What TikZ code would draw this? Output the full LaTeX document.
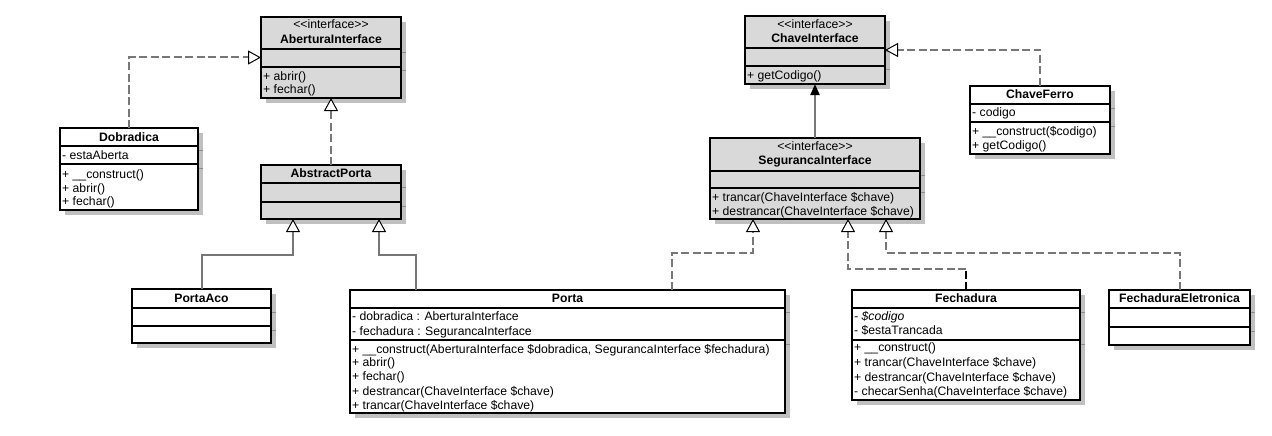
\documentclass[tikz,border=0pt]{standalone}
\usepackage{fontspec}
\newfontfamily\umlf{Liberation Sans}
\usetikzlibrary{arrows.meta,calc}
\pgfdeclarelayer{bg}
\pgfsetlayers{bg,main}
\definecolor{ifill}{HTML}{D9D9D9}
\definecolor{shadc}{HTML}{C0C0C0}
\definecolor{connc}{HTML}{777777}
\tikzset{
  box/.style={draw=black, line width=2pt, rectangle, inner sep=0pt, outer sep=0pt, anchor=north west},
  sepline/.style={draw=black, line width=1.6pt},
  ghost/.style={draw=black!45, line width=1pt},
  t/.style={font=\umlf\fontsize{12.2}{14}\selectfont, inner sep=0pt, anchor=base west},
  tc/.style={font=\umlf\fontsize{12.2}{14}\selectfont, inner sep=0pt, anchor=base},
  tb/.style={font=\umlf\bfseries\fontsize{12.2}{14}\selectfont, inner sep=0pt, anchor=base},
  opentip/.tip={Triangle[width=14pt,length=13pt,color=black,fill=white,line width=1pt]},
  real/.style={draw=connc, line width=2pt, dash pattern=on 8pt off 3.5pt, -opentip},
  gen/.style={draw=connc, line width=2pt, -opentip},
  assoc/.style={draw=connc, line width=2pt, -{Triangle[width=9pt,length=11pt,color=black]}},
  darkdash/.style={draw=black, line width=1.6pt, dash pattern=on 8pt off 3.5pt},
}
\newcommand\umlclass[6]{%
  \begin{pgfonlayer}{bg}\fill[shadc] (#2+5,#3+5) rectangle (#4+5,#5+5);\end{pgfonlayer}
  \node[box, fill=#6, minimum width=#4-#2, minimum height=#5-#3] (#1) at (#2,#3) {};
}
\newcommand\sepl[3]{%
  \draw[sepline] (#1,#3) -- (#2,#3);
  \begin{pgfonlayer}{bg}\draw[ghost] (#2+1,#3+4) -- (#2+5,#3+4);\end{pgfonlayer}
}
\begin{document}
\begin{tikzpicture}[x=1pt,y=-1pt]
\begin{pgfonlayer}{bg}\fill[white] (0,0) rectangle (1272,436);\end{pgfonlayer}
\useasboundingbox (0,0) rectangle (1272,436);

% AberturaInterface
\umlclass{ab}{261}{17}{401}{98}{ifill}
\sepl{261}{401}{49}\sepl{261}{401}{67}
\node[tc] (ab-s) at (331,28.5) {<<interface>>};
\node[tb] (ab-n) at (331,43.5) {AberturaInterface};
\node[t] (ab-m1) at (263,80.5) {+ abrir()};
\node[t] (ab-m2) at (263,93.5) {+ fechar()};

% Dobradica
\umlclass{dob}{60}{128}{198}{210}{white}
\sepl{60}{198}{146}\sepl{60}{198}{164}
\node[tb] (dob-n) at (129,141.5) {Dobradica};
\node[t] (dob-a1) at (62,159.5) {- estaAberta};
\node[t] (dob-m1) at (62,178.5) {+ \_\_construct()};
\node[t] (dob-m2) at (62,192.5) {+ abrir()};
\node[t] (dob-m3) at (62,205.5) {+ fechar()};

% AbstractPorta
\umlclass{ap}{261}{165}{401}{219}{ifill}
\sepl{261}{401}{183}\sepl{261}{401}{202}
\node[tb] (ap-n) at (331,177.5) {AbstractPorta};

% PortaAco
\umlclass{pa}{132}{289}{271}{343}{white}
\sepl{132}{271}{308}\sepl{132}{271}{326}
\node[tb] (pa-n) at (201.5,302.5) {PortaAco};

% Porta
\umlclass{po}{350}{290}{785}{413}{white}
\sepl{350}{785}{308}\sepl{350}{785}{340}
\node[tb] (po-n) at (567.5,302.5) {Porta};
\node[t] (po-a1) at (352,320.5) {- dobradica : AberturaInterface};
\node[t] (po-a2) at (352,335.5) {- fechadura : SegurancaInterface};
\node[t] (po-m1) at (352,353.5) {+ \_\_construct(AberturaInterface \$dobradica, SegurancaInterface \$fechadura)};
\node[t] (po-m2) at (352,366.5) {+ abrir()};
\node[t] (po-m3) at (352,380.5) {+ fechar()};
\node[t] (po-m4) at (352,395.5) {+ destrancar(ChaveInterface \$chave)};
\node[t] (po-m5) at (352,409.5) {+ trancar(ChaveInterface \$chave)};

% ChaveInterface
\umlclass{ci}{745}{16}{885}{84}{ifill}
\sepl{745}{885}{48}\sepl{745}{885}{66}
\node[tc] (ci-s) at (815,28.5) {<<interface>>};
\node[tb] (ci-n) at (815,42.5) {ChaveInterface};
\node[t] (ci-m1) at (747,79.5) {+ getCodigo()};

% ChaveFerro
\umlclass{cf}{970}{86}{1110}{154}{white}
\sepl{970}{1110}{104}\sepl{970}{1110}{122}
\node[tb] (cf-n) at (1040,98.5) {ChaveFerro};
\node[t] (cf-a1) at (972,116.5) {- codigo};
\node[t] (cf-m1) at (972,135.5) {+ \_\_construct(\$codigo)};
\node[t] (cf-m2) at (972,149.5) {+ getCodigo()};

% SegurancaInterface
\umlclass{si}{710}{138}{920}{219}{ifill}
\sepl{710}{920}{171}\sepl{710}{920}{188}
\node[tc] (si-s) at (815,150.5) {<<interface>>};
\node[tb] (si-n) at (815,164.5) {SegurancaInterface};
\node[t] (si-m1) at (712,201.5) {+ trancar(ChaveInterface \$chave)};
\node[t] (si-m2) at (712,215.5) {+ destrancar(ChaveInterface \$chave)};

% Fechadura
\umlclass{fe}{852}{290}{1080}{400}{white}
\sepl{852}{1080}{308}\sepl{852}{1080}{340}
\node[tb] (fe-n) at (966,302.5) {Fechadura};
\node[t] (fe-a1) at (854,320.5) {\itshape - \$codigo};
\node[t] (fe-a2) at (854,334.5) {- \$estaTrancada};
\node[t] (fe-m1) at (854,351.5) {+ \_\_construct()};
\node[t] (fe-m2) at (854,366.5) {+ trancar(ChaveInterface \$chave)};
\node[t] (fe-m3) at (854,381.5) {+ destrancar(ChaveInterface \$chave)};
\node[t] (fe-m4) at (854,395.5) {- checarSenha(ChaveInterface \$chave)};

% FechaduraEletronica
\umlclass{fel}{1109}{290}{1250}{345}{white}
\sepl{1109}{1250}{308}\sepl{1109}{1250}{327}
\node[tb] (fel-n) at (1179.5,302.5) {FechaduraEletronica};

% connectors
\draw[real] (dob.north) |- (ab.west);
\draw[real] (ap.north) -- (ab.south);
\draw[gen] (pa.north) -- ++(0,-34) -| ($(ap.south)+(-38,0)$);
\draw[gen] ($(po.north west)+(66,0)$) -- ++(0,-35) -| ($(ap.south)+(48,0)$);
\draw[real] (cf.north) |- (ci.east);
\draw[assoc] (si.north) -- (ci.south);
\draw[real] ($(po.north east)+(-113,0)$) -- ++(0,-37) -| ($(si.south)+(-62,0)$);
\draw[darkdash] (fe.north) -- ++(0,-21) coordinate (fe1);
\draw[real] (fe1) -| ($(si.south)+(33,0)$);
\draw[real] (fel.north) -- ++(0,-37) -| ($(si.south)+(71,0)$);
\end{tikzpicture}
\end{document}
